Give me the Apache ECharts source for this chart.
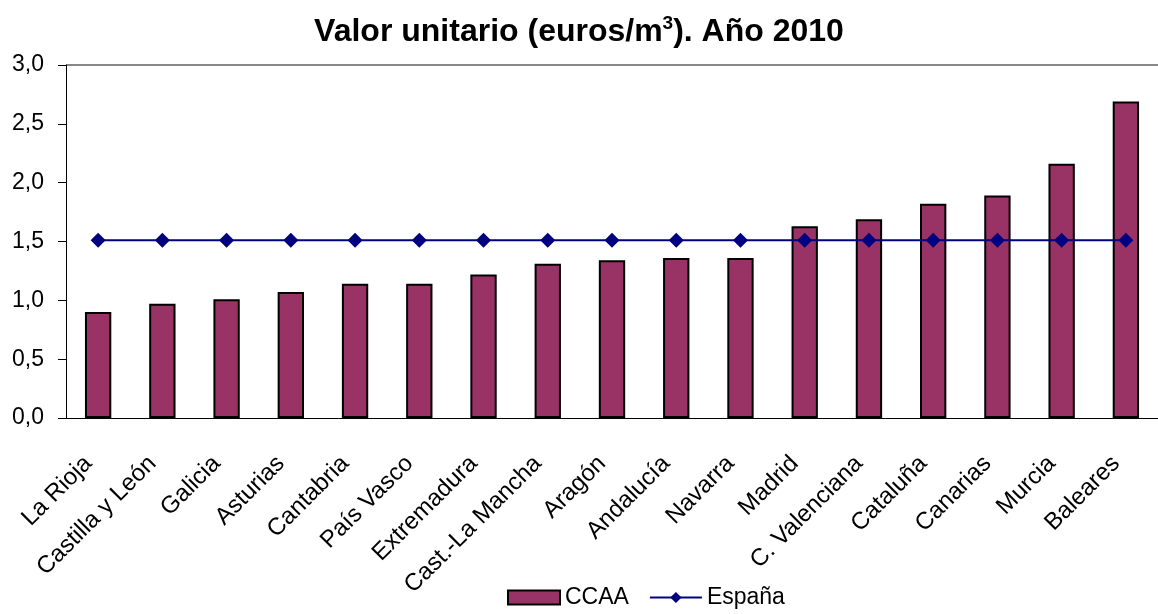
<!DOCTYPE html>
<html>
<head>
<meta charset="utf-8">
<script src="https://cdn.jsdelivr.net/npm/echarts@6/dist/echarts.min.js"></script>
<style>
  html, body { margin: 0; padding: 0; background: #fff; }
  #main { width: 1158px; height: 614px; }
</style>
</head>
<body>
<div id="main"></div>
<script>
// regiones, ordenadas de menor a mayor
var categories = ['La Rioja', 'Castilla y León', 'Galicia', 'Asturias', 'Cantabria', 'País Vasco',
  'Extremadura', 'Cast.-La Mancha', 'Aragón', 'Andalucía', 'Navarra', 'Madrid',
  'C. Valenciana', 'Cataluña', 'Canarias', 'Murcia', 'Baleares'];
var ccaaValues = [0.90, 0.97, 1.01, 1.07, 1.14, 1.14, 1.22, 1.31, 1.34, 1.36, 1.36,
  1.63, 1.69, 1.82, 1.89, 2.16, 2.69];
var espanaValue = 1.51;
var espanaValues = categories.map(function () { return espanaValue; });

var font = 'Liberation Sans, Arial, sans-serif';
var chart = echarts.init(document.getElementById('main'));

chart.setOption({
  animation: false,
  title: {
    text: '{n|Valor unitario (euros/m}{s|3}{n|). Año 2010}',
    left: 'center',
    top: 9,
    textStyle: {
      rich: {
        n: { fontFamily: font, fontSize: 32, fontWeight: 'bold', color: '#000', lineHeight: 37 },
        s: { fontFamily: font, fontSize: 19, fontWeight: 'bold', color: '#000', verticalAlign: 'top', lineHeight: 22 }
      }
    }
  },
  legend: {
    bottom: 0,
    left: 502,
    itemGap: 20,
    itemWidth: 52,
    itemHeight: 14,
    textStyle: { fontFamily: font, fontSize: 23, color: '#000' },
    data: [
      { name: 'CCAA', icon: 'rect', itemStyle: { borderColor: '#000', borderWidth: 2 } },
      { name: 'España' }
    ]
  },
  grid: { left: 66, right: 0, top: 65, bottom: 196 },
  xAxis: {
    type: 'category',
    data: categories,
    axisLine: { lineStyle: { color: '#000', width: 1 } },
    axisTick: { length: 8, lineStyle: { color: '#000' } },
    axisLabel: {
      rotate: 45,
      interval: 0,
      margin: 32,
      padding: [0, 14, 0, 0],
      fontFamily: font,
      fontSize: 24,
      color: '#000'
    }
  },
  yAxis: {
    type: 'value',
    min: 0,
    max: 3,
    interval: 0.5,
    axisLine: { show: true, lineStyle: { color: '#000', width: 1 } },
    axisTick: { show: true, length: 8, lineStyle: { color: '#000' } },
    axisLabel: {
      fontFamily: font,
      fontSize: 23,
      color: '#000',
      margin: 22,
      formatter: function (v) { return v.toFixed(1).replace('.', ','); }
    },
    splitLine: {
      show: true,
      lineStyle: {
        color: ['transparent', 'transparent', 'transparent', 'transparent',
          'transparent', 'transparent', '#888'],
        width: 2
      }
    }
  },
  series: [
    {
      name: 'CCAA',
      type: 'bar',
      data: ccaaValues,
      barWidth: '41%',
      itemStyle: { color: '#993366', borderColor: '#000', borderWidth: 2 }
    },
    {
      name: 'España',
      type: 'line',
      data: espanaValues,
      symbol: 'diamond',
      symbolSize: 15,
      lineStyle: { color: '#000080', width: 2 },
      itemStyle: { color: '#000080' }
    }
  ]
});
</script>
</body>
</html>
